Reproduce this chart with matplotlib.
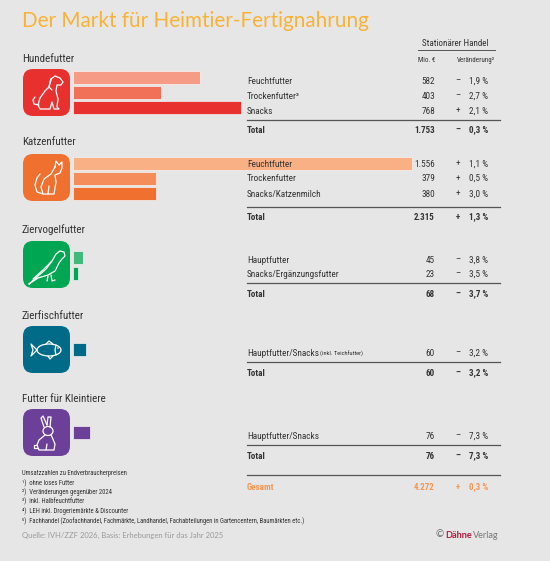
import matplotlib
matplotlib.use("Agg")
import matplotlib.pyplot as plt
from matplotlib import font_manager as fm
from matplotlib.patches import FancyBboxPatch, Ellipse, Circle
import numpy as np

# ---------------- data ----------------
categories = ["Hundefutter", "Katzenfutter", "Ziervogelfutter", "Zierfischfutter", "Futter für Kleintiere"]

hund_labels = ["Feuchtfutter", "Trockenfutter³", "Snacks"]
hund_values = [582, 403, 768]
hund_change = [-1.9, -2.7, 2.1]

katze_labels = ["Feuchtfutter", "Trockenfutter", "Snacks/Katzenmilch"]
katze_values = [1556, 379, 380]
katze_change = [1.1, 0.5, 3.0]

vogel_labels = ["Hauptfutter", "Snacks/Ergänzungsfutter"]
vogel_values = [45, 23]
vogel_change = [-3.8, -3.5]

fisch_labels = ["Hauptfutter/Snacks"]
fisch_values = [60]
fisch_change = [-3.2]

klein_labels = ["Hauptfutter/Snacks"]
klein_values = [76]
klein_change = [-7.3]

total_values = [1753, 2315, 68, 60, 76]
total_change = [-0.3, 1.3, -3.7, -3.2, -7.3]
gesamt_value = 4272
gesamt_change = 0.3

footnotes = [
    "Umsatzzahlen zu Endverbraucherpreisen",
    "¹)  ohne loses Futter",
    "²)  Veränderungen gegenüber 2024",
    "³)  inkl. Halbfeuchtfutter",
    "⁴)  LEH inkl. Drogeriemärkte & Discounter",
    "⁵)  Fachhandel (Zoofachhandel, Fachmärkte, Landhandel, Fachabteilungen in Gartencentern, Baumärkten etc.)",
]

# ---------------- fonts ----------------
entries = fm.fontManager.ttflist
names = {f.name for f in entries}


def is_cond(f):
    s = f.stretch
    if isinstance(s, str):
        return "condensed" in s or "narrow" in s.lower()
    return s < 500


if "Liberation Sans Narrow" in names:
    NARROW, STRETCH = ["Liberation Sans Narrow", "DejaVu Sans"], "normal"
elif "Roboto Condensed" in names:
    NARROW, STRETCH = ["Roboto Condensed", "DejaVu Sans"], "normal"
elif any(f.name == "DejaVu Sans" and is_cond(f) for f in entries):
    NARROW, STRETCH = ["DejaVu Sans"], "condensed"
elif any(f.name == "Roboto" and is_cond(f) for f in entries):
    NARROW, STRETCH = ["Roboto", "DejaVu Sans"], "condensed"
elif "Roboto" in names:
    NARROW, STRETCH = ["Roboto", "DejaVu Sans"], "normal"
else:
    NARROW, STRETCH = ["DejaVu Sans"], "normal"
GEO = ["Lato", "DejaVu Sans"]

# ---------------- styles ----------------
BG = "#e6e6e6"
TXT = "#333333"
icon_colors = ["#e8312f", "#f07030", "#00a651", "#006a89", "#6c3f98"]
bar_colors = [
    ["#f69c86", "#f07058", "#e8312f"],
    ["#f9b084", "#f48d59", "#f07030"],
    ["#40b97a", "#00a651"],
    ["#006a89"],
    ["#6c3f98"],
]

# layout (pixel positions)
sec_title_y = [58.5, 142, 230, 316, 399]
icon_top = [69, 154, 241, 326, 409]
bar_y = [[77.5, 92.5, 107.5], [163, 178.5, 193.5], [257, 273], [349.5], [432]]
row_y = [[81, 96, 111], [164, 178.5, 194], [260, 274], [353], [436]]
line_y = [120, 207, 283, 362, 445]
total_y = [130, 217, 294, 373, 456]

all_labels = [hund_labels, katze_labels, vogel_labels, fisch_labels, klein_labels]
all_values = [hund_values, katze_values, vogel_values, fisch_values, klein_values]
all_change = [hund_change, katze_change, vogel_change, fisch_change, klein_change]

W, H = 550, 561
fig = plt.figure(figsize=(W / 100, H / 100), dpi=100)
fig.patch.set_facecolor(BG)
renderer = fig.canvas.get_renderer()

ax = fig.add_axes([0, 0, 1, 1])
ax.set_xlim(0, W)
ax.set_ylim(H, 0)
ax.axis("off")

bx0, bx1 = 73, 422
bax = fig.add_axes([bx0 / W, 0, (bx1 - bx0) / W, 1], zorder=2)
bax.set_xlim(0, 1600)
bax.set_ylim(H, 0)
bax.axis("off")
bax.patch.set_alpha(0)

tax = fig.add_axes([0, 0, 1, 1], zorder=3)
tax.set_xlim(0, W)
tax.set_ylim(H, 0)
tax.axis("off")
tax.patch.set_alpha(0)


def fit(s, target, family, weight="normal", stretch="normal", maxsize=None):
    t = tax.text(0, 0, s, fontsize=10, family=family, fontweight=weight, fontstretch=stretch)
    w = t.get_window_extent(renderer).width
    t.remove()
    size = 10 * target / w
    if maxsize:
        size = min(size, maxsize)
    return size


S_ROW = fit("Snacks/Katzenmilch", 75, NARROW, stretch=STRETCH, maxsize=7.2)
S_BOLD = S_ROW * 0.97
S_SEC = fit("Futter für Kleintiere", 83, NARROW, stretch=STRETCH, maxsize=9.0)
S_HEAD = fit("Stationärer Handel", 69, NARROW, stretch=STRETCH, maxsize=6.5)
S_SUB = fit("Veränderung²", 39, NARROW, stretch=STRETCH, maxsize=5.0)
S_FOOT = fit(footnotes[5], 295, NARROW, stretch=STRETCH, maxsize=4.8)
S_TEICH = fit("(inkl. Teichfutter)", 43, NARROW, stretch=STRETCH, maxsize=4.6)
S_TITLE = fit("Der Markt für Heimtier-Fertignahrung", 346, GEO)
S_SRC = fit("Quelle: IVH/ZZF 2026, Basis: Erhebungen für das Jahr 2025", 201, GEO)


def T(x, y, s, size, ha="left", color=TXT, weight="normal", family=None, **kw):
    fam = family if family is not None else NARROW
    st = STRETCH if family is None else "normal"
    return tax.text(x, y, s, fontsize=size, family=fam, fontstretch=st, color=color, ha=ha,
                    va="center", fontweight=weight, **kw)


# title
T(22, 20.5, "Der Markt für Heimtier-Fertignahrung", S_TITLE, color="#f9b233", family=GEO)

# header
T(455.5, 43, "Stationärer Handel", S_HEAD, ha="center")
tax.plot([418, 495], [49.5, 49.5], color="#555555", lw=0.7)
T(435, 60.5, "Mio. €", S_SUB, ha="right")
T(495, 60.5, "Veränderung²", S_SUB, ha="right")


def fmt_val(v):
    return f"{v:,}".replace(",", ".")


def fmt_pct(v):
    return f"{abs(v):.1f}".replace(".", ",") + " %"


def row(y, label, val, ch, bold=False, color=TXT):
    w = "bold" if bold else "normal"
    s = S_BOLD if bold else S_ROW
    T(247, y, label, s, color=color, weight=w)
    T(435, y, fmt_val(val), s, ha="right", color=color, weight=w)
    T(458, y, "–" if ch < 0 else "+", s, ha="center", color=color, weight=w)
    T(488, y, fmt_pct(ch), s, ha="right", color=color, weight=w)


def draw_icon(i, x0, y0):
    c = icon_colors[i]
    ax.add_patch(FancyBboxPatch((x0, y0), 47, 47, boxstyle="round,pad=0,rounding_size=10",
                                fc=c, ec="none", zorder=1))
    kw = dict(color="white", lw=0.9, solid_capstyle="round", solid_joinstyle="round", zorder=4)

    def poly(pts):
        p = np.array(pts, dtype=float)
        tax.plot(x0 + p[:, 0], y0 + p[:, 1], **kw)

    if i == 0:  # dog
        poly([(28, 10), (32, 7), (37, 9), (40, 13), (38, 16), (34, 16), (33, 22), (35, 30), (34, 38),
              (36, 40), (31, 40), (29, 33), (27, 40), (17, 40), (15, 36), (17, 29), (22, 22), (26, 18),
              (27, 13), (28, 10)])
        poly([(28, 11), (26, 18), (29, 21)])
        poly([(16, 36), (11, 35), (10, 31), (12, 28)])
    elif i == 1:  # cat
        poly([(32, 13), (33, 7), (36, 11), (39, 8), (39, 14), (37, 19), (32, 21), (33, 28), (31, 40),
              (20, 40), (18, 33), (21, 25), (28, 20), (32, 13)])
        poly([(20, 40), (14, 38), (12, 31), (14, 24), (17, 20)])
        poly([(25, 40), (26, 32)])
    elif i == 2:  # bird
        poly([(6, 43), (15, 35), (23, 28), (29, 20), (33, 13), (37, 10), (41, 11), (42, 15), (39, 18),
              (36, 22), (32, 30), (25, 34), (15, 37), (6, 43)])
        poly([(10, 38), (21, 28), (29, 20)])
        poly([(28, 34), (29, 40), (32, 39)])
        poly([(25, 35), (24, 40)])
    elif i == 3:  # fish
        tax.add_patch(Ellipse((x0 + 26, y0 + 24), 24, 12, fc="none", ec="white", lw=0.9, zorder=4))
        poly([(14, 24), (8, 18), (10, 24), (8, 30), (14, 24)])
        poly([(23, 18), (26, 15), (30, 18)])
        poly([(25, 30), (27, 33), (30, 30)])
        poly([(33, 19), (32, 24), (33, 29)])
        tax.add_patch(Circle((x0 + 35, y0 + 22), 0.8, fc="white", ec="none", zorder=4))
    elif i == 4:  # rabbit
        poly([(21, 18), (18, 9), (20, 7), (24, 16)])
        poly([(24, 16), (25, 8), (28, 8), (27, 18)])
        tax.add_patch(Ellipse((x0 + 25, y0 + 22), 10, 9, fc="none", ec="white", lw=0.9, zorder=4))
        poly([(22, 26), (16, 31), (14, 36), (16, 41), (31, 41), (32, 35), (29, 28), (28, 26)])
        poly([(14, 36), (11, 36), (11, 39), (15, 39)])
        poly([(23, 41), (24, 35)])


for i, cat in enumerate(categories):
    T(22, sec_title_y[i], cat, S_SEC)
    draw_icon(i, 23, icon_top[i])
    bax.barh(bar_y[i], all_values[i], height=13, left=0, color=bar_colors[i],
             edgecolor="#f4f4f4", linewidth=0.5)
    for lab, y, v, ch in zip(all_labels[i], row_y[i], all_values[i], all_change[i]):
        row(y, lab, v, ch)
    tax.plot([247, 500], [line_y[i], line_y[i]], color="#555555", lw=0.9)
    row(total_y[i], "Total", total_values[i], total_change[i], bold=True)

# sub note on fish row
T(320, row_y[3][0] + 0.5, "(inkl. Teichfutter)", S_TEICH)

# Gesamt
tax.plot([247, 500], [475, 475], color="#555555", lw=0.9)
row(487, "Gesamt", gesamt_value, gesamt_change, bold=True, color="#f7964f")

# footnotes
fy = [473, 483, 492, 501.5, 511, 521]
for t, y in zip(footnotes, fy):
    T(22, y, t, S_FOOT)

T(22, 535, "Quelle: IVH/ZZF 2026, Basis: Erhebungen für das Jahr 2025", S_SRC, color="#9a9a9a", family=GEO)

# copyright, laid out right-to-left
tv = T(499, 535, "Verlag", 6.6, ha="right", color="#777777", family=GEO)
xv = tv.get_window_extent(renderer).x0
td = T(xv - 1.5, 535, "Dähne", 6.6, ha="right", color="#b4183c", weight="bold", family=GEO)
xd = td.get_window_extent(renderer).x0
T(xd - 2, 535, "©", 7, ha="right", color="#666666", family=GEO)

fig.savefig("out.png", dpi=100, facecolor=BG)
